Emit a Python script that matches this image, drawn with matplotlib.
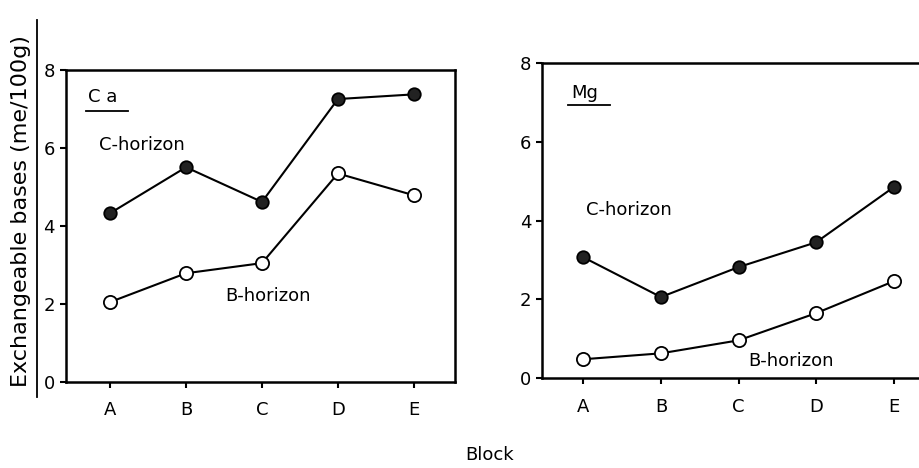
import numpy as np
import matplotlib.pyplot as plt
from matplotlib.lines import Line2D

# data
blocks = ['A', 'B', 'C', 'D', 'E']
ca_c = [4.33, 5.51, 4.62, 7.26, 7.38]
ca_b = [2.05, 2.79, 3.05, 5.35, 4.79]
mg_c = [3.07, 2.06, 2.82, 3.45, 4.85]
mg_b = [0.48, 0.63, 0.96, 1.65, 2.46]
yticks = [0, 2, 4, 6, 8]

plt.rcParams['font.family'] = 'DejaVu Sans'
fs = 13

fig = plt.figure(figsize=(9.19, 4.68), dpi=100)
ax1 = fig.add_axes([0.0718, 0.1838, 0.4232, 0.6662])
ax2 = fig.add_axes([0.590, 0.192, 0.412, 0.673])

x = np.arange(len(blocks))

def panel(ax, c, b, xlim, name, ctxt, btxt, lab, uline, right=True):
    ax.plot(x, c, color='black', lw=1.5, marker='o', ms=9,
            mfc='#222222', mec='black', mew=1.3, zorder=3)
    ax.plot(x, b, color='black', lw=1.5, marker='o', ms=9.5,
            mfc='white', mec='black', mew=1.3, zorder=3)
    ax.set_xlim(*xlim)
    ax.set_ylim(0, 8)
    ax.set_xticks(x)
    ax.set_xticklabels(blocks, fontsize=fs)
    ax.set_yticks(yticks)
    ax.set_yticklabels([str(v) for v in yticks], fontsize=fs)
    ax.tick_params(direction='out', length=4, width=1.5)
    ax.tick_params(axis='x', pad=10)
    ax.tick_params(axis='y', pad=4)
    for s in ax.spines.values():
        s.set_linewidth(1.8)
    ax.spines['right'].set_visible(right)
    ax.text(ctxt[0], ctxt[1], 'C-horizon', fontsize=fs, va='center', ha='left')
    ax.text(btxt[0], btxt[1], 'B-horizon', fontsize=fs, va='center', ha='left')
    ax.text(lab[0], lab[1], name, fontsize=fs, va='center', ha='left')
    ax.plot(uline[0], uline[1], color='black', lw=1.3)

panel(ax1, ca_c, ca_b, (-0.58, 4.54), 'C a', (-0.15, 6.08), (1.52, 2.2),
      (-0.29, 7.3), ([-0.32, 0.24], [6.95, 6.95]))
panel(ax2, mg_c, mg_b, (-0.53, 4.35), 'Mg', (0.03, 4.26), (2.12, 0.43),
      (-0.16, 7.23), ([-0.2, 0.35], [6.95, 6.95]), right=False)

fig.text(0.023, 0.55, 'Exchangeable bases (me/100g)', fontsize=16,
         rotation=90, ha='center', va='center')
fig.text(0.533, 0.008, 'Block', fontsize=fs, ha='center', va='bottom')

# scanned vertical line beside the y label
fig.add_artist(Line2D([0.040, 0.040], [0.152, 0.957], color='black', lw=1.3))

fig.savefig('out.png', dpi=100)
